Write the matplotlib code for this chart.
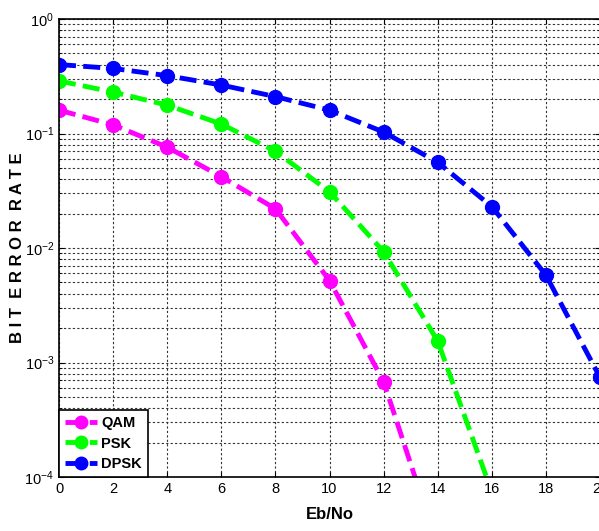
import numpy as np
import matplotlib.pyplot as plt
from matplotlib.ticker import LogLocator, NullFormatter

plt.rcParams['font.family'] = ['Liberation Sans', 'DejaVu Sans']

# Eb/No values and BER curves
ebno_qam = [0, 2, 4, 6, 8, 10, 12, 14]
ber_qam = [0.16, 0.119, 0.076, 0.042, 0.022, 0.0052, 0.00068, 0.000025]

ebno_psk = [0, 2, 4, 6, 8, 10, 12, 14, 16]
ber_psk = [0.288, 0.23, 0.177, 0.121, 0.070, 0.031, 0.0093, 0.00154, 0.000074]

ebno_dpsk = [0, 2, 4, 6, 8, 10, 12, 14, 16, 18, 20]
ber_dpsk = [0.40, 0.37, 0.32, 0.265, 0.21, 0.16, 0.103, 0.056, 0.023, 0.0058, 0.00074]

xticks = [0, 2, 4, 6, 8, 10, 12, 14, 16, 18, 20]

fig = plt.figure(figsize=(5.99, 5.31), dpi=100)
ax = fig.add_axes([59 / 599, 54 / 531, 541 / 599, 458 / 531])

style = dict(linestyle=(0, (3.5, 1.5)), linewidth=3.5, marker='o', markersize=10)
ax.semilogy(ebno_qam, ber_qam, color='#ff00ff', label='QAM', **style)
ax.semilogy(ebno_psk, ber_psk, color='#00ff00', label='PSK', **style)
ax.semilogy(ebno_dpsk, ber_dpsk, color='#0000ff', label='DPSK', **style)

ax.set_xlim(0, 20)
ax.set_ylim(1e-4, 1)
ax.set_xticks(xticks)
ax.yaxis.set_major_locator(LogLocator(base=10, numticks=10))
ax.yaxis.set_minor_locator(LogLocator(base=10, subs=np.arange(2, 10), numticks=10))
ax.yaxis.set_minor_formatter(NullFormatter())

ax.grid(True, which='major', color='#333333', linestyle=(0, (2, 2)), linewidth=0.8)
ax.grid(True, which='minor', axis='y', color='#333333', linestyle=(0, (2, 2)), linewidth=0.8)
ax.tick_params(which='both', direction='in', labelsize=10.5, top=True, right=True)
ax.tick_params(which='minor', length=2)
for s in ax.spines.values():
    s.set_linewidth(1.2)

ax.set_xlabel('Eb/No', fontsize=12, fontweight='bold', labelpad=8)
ax.set_ylabel('B I T  E R R O R  R A T E', fontsize=12, fontweight='bold')
ax.yaxis.set_label_coords(-0.063, 0.5)

leg = ax.legend(loc='lower left', borderaxespad=0, fancybox=False, framealpha=1,
                edgecolor='black', prop={'weight': 'bold', 'size': 10.5},
                handlelength=2.2, handletextpad=0.3, borderpad=0.4, labelspacing=0.45,
                markerscale=0.9)
leg.get_frame().set_linewidth(1.2)

fig.savefig('out.png', dpi=100)
